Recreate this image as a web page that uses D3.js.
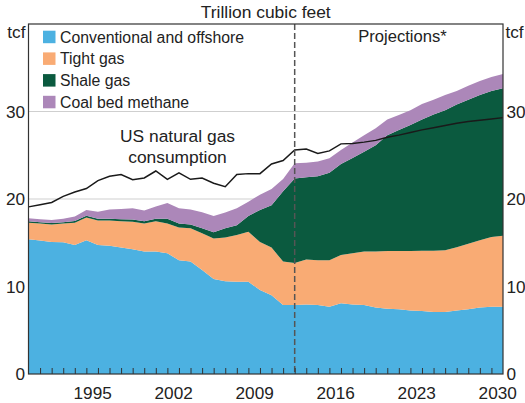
<!DOCTYPE html>
<html>
<head>
<meta charset="utf-8">
<script src="https://cdn.jsdelivr.net/npm/d3@7"></script>
<style>
  body { margin: 0; background: #fff; }
  svg text { font-family: "Liberation Sans", Arial, sans-serif; fill: #222; }
</style>
</head>
<body>
<svg id="chart" width="525" height="403"></svg>
<script>
// annual values, each plotted at the end of its year (1989 .. 2030)
var years = d3.range(1989, 2031);
var conventional = [15.4, 15.25, 15.1, 15.05, 14.75, 15.3, 14.75, 14.65, 14.45, 14.25, 14.0, 14.0, 13.8, 13.0,
    12.85, 11.9, 10.85, 10.6, 10.55, 10.55, 9.6, 9.0, 7.9, 7.9, 7.95, 7.9, 7.7, 8.1, 7.95, 7.9, 7.6, 7.45,
    7.4, 7.25, 7.2, 7.1, 7.1, 7.25, 7.4, 7.6, 7.7, 7.7];
var tight = [1.9, 1.95, 2.0, 2.15, 2.55, 2.6, 2.8, 2.9, 3.0, 3.15, 3.2, 3.45, 3.4, 3.75, 3.8, 4.2, 4.65, 5.0,
    5.35, 5.7, 5.5, 5.45, 4.95, 4.8, 5.15, 5.1, 5.3, 5.5, 5.85, 6.1, 6.4, 6.6, 6.65, 6.8, 6.9, 7.0, 7.05,
    7.25, 7.5, 7.7, 7.95, 8.1];
var shale = [0.15, 0.15, 0.15, 0.15, 0.2, 0.2, 0.2, 0.2, 0.25, 0.25, 0.25, 0.3, 0.55, 0.45, 0.45, 0.55, 0.7,
    1.05, 1.1, 1.8, 3.65, 4.85, 8.05, 9.65, 9.4, 9.6, 10.0, 10.4, 10.9, 11.4, 12.15, 13.25, 13.85, 14.4,
    15.0, 15.55, 16.0, 16.3, 16.45, 16.6, 16.7, 16.85];
var coalBed = [0.35, 0.35, 0.35, 0.4, 0.5, 0.65, 0.8, 1.05, 1.15, 1.3, 1.25, 1.4, 1.8, 1.75, 1.7, 1.85, 1.85,
    1.8, 1.95, 1.65, 1.75, 1.85, 1.4, 1.75, 1.65, 1.7, 1.65, 1.6, 1.75, 1.9, 1.95, 1.8, 1.7, 1.7, 1.75,
    1.7, 1.75, 1.55, 1.6, 1.6, 1.6, 1.65];
var consumption = [19.1, 19.35, 19.6, 20.3, 20.8, 21.2, 22.1, 22.6, 22.8, 22.2, 22.4, 23.2, 22.25, 23.0,
    22.25, 22.4, 21.8, 21.4, 22.8, 22.9, 22.9, 24.0, 24.4, 25.6, 25.7, 25.2, 25.5, 26.3, 26.35, 26.5,
    26.7, 27.05, 27.3, 27.6, 27.9, 28.15, 28.4, 28.65, 28.85, 29.0, 29.15, 29.3];

var seriesNames = ["Conventional and offshore", "Tight gas", "Shale gas", "Coal bed methane"];
var seriesColors = ["#4cb1e1", "#f9ab74", "#0b5a3f", "#ac87b9"];
var yTicks = [0, 10, 20, 30];
var xLabels = [1995, 2002, 2009, 2016, 2023, 2030];
var lastActual = 2012;

var svg = d3.select("#chart");
var plotLeft = 28.5, plotRight = 503, plotTop = 24, plotBottom = 374;
var fontSize = 17.2;

var x = d3.scaleLinear().domain([1989, 2030]).range([plotLeft, plotRight]);
var y = d3.scaleLinear().domain([0, 40]).range([plotBottom, plotTop]);

var rows = years.map(function(yr, i) {
    return {
        year: yr,
        "Conventional and offshore": conventional[i],
        "Tight gas": tight[i],
        "Shale gas": shale[i],
        "Coal bed methane": coalBed[i],
        consumption: consumption[i]
    };
});

// gridlines sit behind the areas
svg.append("g")
    .selectAll("line")
    .data(yTicks.slice(1))
    .enter()
    .append("line")
    .attr("x1", plotLeft).attr("x2", plotRight)
    .attr("y1", function(d) { return y(d); })
    .attr("y2", function(d) { return y(d); })
    .attr("stroke", "#cfcfcf")
    .attr("stroke-width", 1.2);

var stacked = d3.stack().keys(seriesNames)(rows);
var area = d3.area()
    .x(function(d) { return x(d.data.year); })
    .y0(function(d) { return y(d[0]); })
    .y1(function(d) { return y(d[1]); });

svg.append("g")
    .selectAll("path")
    .data(stacked)
    .enter()
    .append("path")
    .attr("d", area)
    .attr("fill", function(d, i) { return seriesColors[i]; });

var line = d3.line()
    .x(function(d) { return x(d.year); })
    .y(function(d) { return y(d.consumption); });

svg.append("path")
    .datum(rows)
    .attr("d", line)
    .attr("fill", "none")
    .attr("stroke", "#1a1a1a")
    .attr("stroke-width", 1.5);

// projection divider
svg.append("line")
    .attr("x1", x(lastActual)).attr("x2", x(lastActual))
    .attr("y1", plotTop).attr("y2", plotBottom)
    .attr("stroke", "#555")
    .attr("stroke-width", 1.5)
    .attr("stroke-dasharray", "6,3");

// minor year ticks, pointing into the plot
svg.append("g")
    .attr("transform", "translate(0," + plotBottom + ")")
    .call(d3.axisBottom(x).tickValues(years.slice(1, -1)).tickSize(-6).tickFormat(""))
    .call(function(g) { g.select(".domain").remove(); })
    .selectAll("line").attr("stroke", "#333");

// year labels sit in the middle of each year
svg.append("g")
    .attr("transform", "translate(0," + plotBottom + ")")
    .call(d3.axisBottom(x)
        .tickValues(xLabels.map(function(d) { return d - 0.5; }))
        .tickSize(0).tickPadding(12.6)
        .tickFormat(function(d) { return d + 0.5; }))
    .call(function(g) { g.select(".domain").remove(); })
    .selectAll("text").attr("font-size", fontSize).attr("font-family", null);

svg.append("g")
    .attr("transform", "translate(" + plotLeft + ",0)")
    .call(d3.axisLeft(y).tickValues(yTicks).tickSize(0).tickPadding(3.5))
    .call(function(g) { g.select(".domain").remove(); })
    .selectAll("text").attr("font-size", fontSize).attr("font-family", null);

svg.append("g")
    .attr("transform", "translate(" + plotRight + ",0)")
    .call(d3.axisRight(y).tickValues(yTicks).tickSize(0).tickPadding(3.5))
    .call(function(g) { g.select(".domain").remove(); })
    .selectAll("text").attr("font-size", fontSize).attr("font-family", null);

// plot frame
svg.append("rect")
    .attr("x", plotLeft).attr("y", plotTop)
    .attr("width", plotRight - plotLeft).attr("height", plotBottom - plotTop)
    .attr("fill", "none")
    .attr("stroke", "#333")
    .attr("stroke-width", 1.2);

svg.append("text")
    .attr("x", (plotLeft + plotRight) / 2).attr("y", 17.5)
    .attr("text-anchor", "middle").attr("font-size", 17.4)
    .text("Trillion cubic feet");
svg.append("text").attr("x", 25.5).attr("y", 38).attr("text-anchor", "end")
    .attr("font-size", fontSize).text("tcf");
svg.append("text").attr("x", 505.5).attr("y", 38)
    .attr("font-size", fontSize).text("tcf");

svg.append("text")
    .attr("x", 402.5).attr("y", 42)
    .attr("text-anchor", "middle").attr("font-size", 16.6)
    .text("Projections*");

var note = svg.append("text")
    .attr("text-anchor", "middle").attr("font-size", 17.4);
note.append("tspan").attr("x", 177.5).attr("y", 141.5).text("US natural gas");
note.append("tspan").attr("x", 177.5).attr("y", 163).text("consumption");

var legend = svg.append("g")
    .selectAll("g")
    .data(seriesNames)
    .enter()
    .append("g")
    .attr("transform", function(d, i) { return "translate(43," + (30.7 + i * 21.7) + ")"; });
legend.append("rect")
    .attr("width", 12.5).attr("height", 12.5)
    .attr("fill", function(d, i) { return seriesColors[i]; });
legend.append("text")
    .attr("x", 17).attr("y", 11.8)
    .attr("font-size", 15.8)
    .text(function(d) { return d; });
</script>
</body>
</html>
